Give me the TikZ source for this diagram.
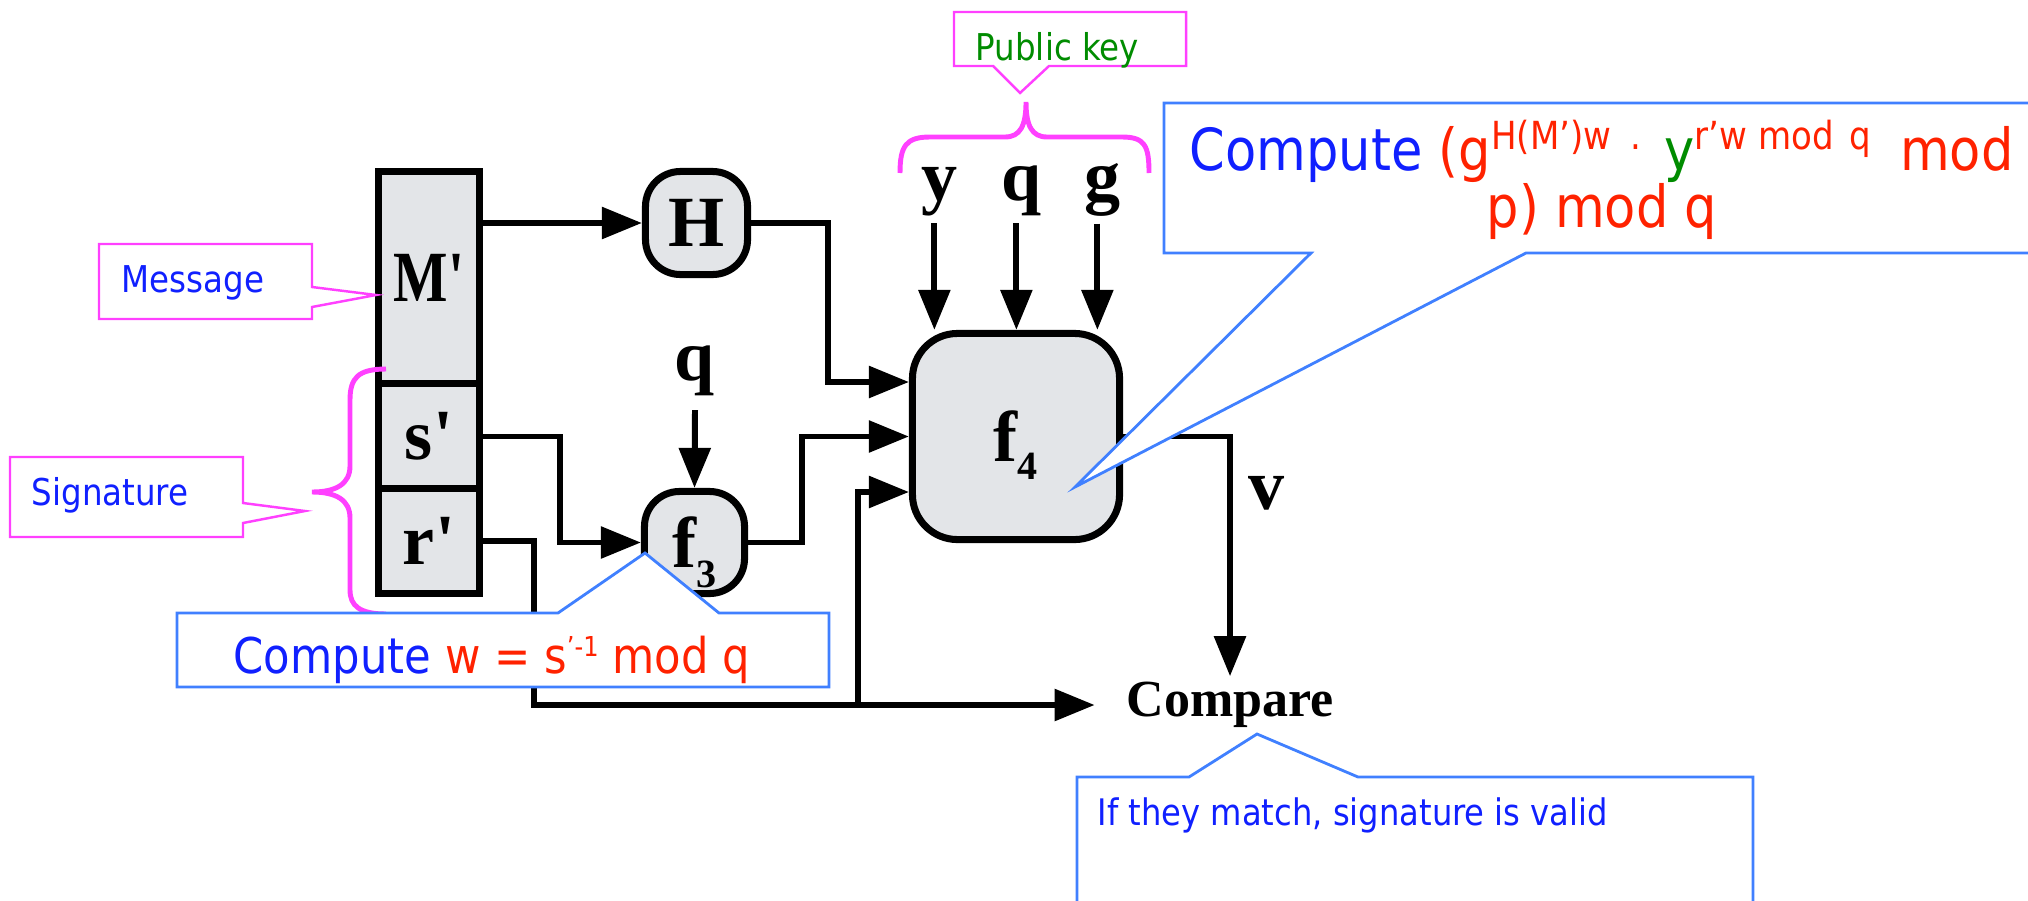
\documentclass[tikz,border=0pt]{standalone}
\usepackage{graphicx}
\usepackage{fontspec}
\usetikzlibrary{arrows.meta,calc}
\newfontfamily\lfont{Liberation Serif}
\newfontfamily\cfont{DejaVu Sans}[FakeStretch=0.88]
\definecolor{boxgray}{RGB}{227,229,232}
\definecolor{pinkm}{RGB}{255,64,255}
\definecolor{callblue}{RGB}{64,128,255}
\definecolor{tblue}{RGB}{16,32,255}
\definecolor{tred}{RGB}{255,34,0}
\definecolor{tgreen}{RGB}{0,140,0}
\begin{document}
\begin{tikzpicture}[x=0.01cm,y=-0.01cm,
  blk/.style={draw=black, line width=2pt, fill=boxgray, inner sep=0pt, font=\lfont\bfseries\fontsize{20.5}{22}\selectfont},
  rblk/.style={blk, rounded corners=0.35cm},
  conn/.style={line width=1.7pt, -{Triangle[length=11.4pt,width=8.8pt]}},
  lab/.style={font=\lfont\bfseries\fontsize{20.5}{22}\selectfont, inner sep=2pt},
  brace/.style={draw=pinkm, line width=1.4pt},
  pcall/.style={draw=pinkm, line width=0.7pt, fill=white},
  bcall/.style={draw=callblue, line width=0.8pt, fill=white},
  ctext/.style={inner sep=0pt, anchor=base west},
  sfont/.style={font=\cfont\fontsize{10.5}{12}\selectfont},
]
\useasboundingbox (0,0) rectangle (2028,900);

% blocks
\node[blk, minimum width=1.01cm, minimum height=2.125cm] (M) at (429,277.75) {\scalebox{0.8}[1]{M'}};
\node[blk, minimum width=1.01cm, minimum height=1.05cm] (s) at (429,436.5) {s'};
\node[blk, minimum width=1.01cm, minimum height=1.045cm] (r) at (429,541.25) {r'};
\node[rblk, minimum width=1.02cm, minimum height=1.03cm] (H) at (696.5,223) {H};
\node[rblk, minimum width=1.00cm, minimum height=1.02cm, text depth=0pt] (f3) at (694.5,542.5) {f\raisebox{-5.5pt}{\fontsize{11.4}{12}\selectfont 3}};
\node[blk, rounded corners=0.45cm, minimum width=2.07cm, minimum height=2.06cm, text depth=0pt] (f4) at (1016,436.5) {f\raisebox{-5pt}{\fontsize{11.4}{12}\selectfont 4}};

% labels
\node[lab, anchor=base, inner sep=4pt] (qf) at (695,380) {q};
\node[lab, anchor=base] (ky) at (940,200) {y};
\node[lab, anchor=base] (kq) at (1022,200) {q};
\node[lab, anchor=base] (kg) at (1103,200) {g};
\node[lab] (v) at (1266,493) {v};
\node[font=\lfont\bfseries\fontsize{14.8}{16}\selectfont, inner xsep=0.31cm, inner ysep=1.5pt] (cmp) at (1230,705) {Compare};

\coordinate (f4a) at (909,382);
\coordinate (f4c) at (909,492);
\coordinate (j) at (858,705);

% connectors
\draw[conn] (M.east |- H.west) -- (H.west);
\draw[conn] (H.east) -- (828,223) |- (f4a);
\draw[conn] (f3.east) -- (802,542.5) |- (f4.west);
\draw[conn] (s.east) -- (560,436.5) |- (f3.west);
\draw[conn] (r.east) -- (534,541.25) -- (534,705) -- (cmp.west);
\draw[conn] (j) |- (f4c);
\draw[conn] (f4.east) -| (cmp.north);
\draw[conn] (qf.south) -- (f3.north);
\draw[conn] ([xshift=-1.6pt]ky.south) -- ([xshift=-1.6pt]ky.south |- f4.north);
\draw[conn] ([xshift=-1.6pt]kq.south) -- ([xshift=-1.6pt]kq.south |- f4.north);
\draw[conn] ([xshift=-1.6pt]kg.south) -- ([xshift=-1.6pt]kg.south |- f4.north);

% braces
\draw[brace] (386,369) .. controls (358,369) and (350,378) .. (350,400) -- (350,466)
  .. controls (350,484) and (336,492) .. (312,492)
  .. controls (336,492) and (350,500) .. (350,518) -- (350,590)
  .. controls (350,606) and (360,614) .. (386,614);
\draw[brace] (900,173) .. controls (900,146) and (906,137) .. (930,137) -- (1005,137)
  .. controls (1020,137) and (1026,126) .. (1026,102)
  .. controls (1026,126) and (1032,137) .. (1047,137) -- (1122,137)
  .. controls (1145,137) and (1149,146) .. (1149,173);

% pink callouts
\draw[pcall] (99,244) -- (312,244) -- (312,287) -- (376,295) -- (312,307) -- (312,319) -- (99,319) -- cycle;
\node[ctext, sfont, text=tblue] (tmsg) at (121,292) {Message};
\draw[pcall] (10,457) -- (243,457) -- (243,503) -- (305,511) -- (243,523) -- (243,537) -- (10,537) -- cycle;
\node[ctext, sfont, text=tblue] (tsig) at (31,505) {Signature};
\draw[pcall] (954,12) -- (1186,12) -- (1186,66) -- (1049,66) -- (1020,93) -- (993,66) -- (954,66) -- cycle;
\node[ctext, sfont, text=tgreen] (tpk) at (975,60) {Public key};

% blue callouts
\draw[bcall] (1164,103) -- (2045,103) -- (2045,253) -- (1526,253) -- (1075,487) -- (1311,253) -- (1164,253) -- cycle;
\node[ctext, font=\cfont\fontsize{16.5}{18}\selectfont] (tc1) at (1189,170) {\textcolor{tblue}{Compute} \textcolor{tred}{(g\raisebox{5.7pt}{\cfont\fontsize{11}{12}\selectfont H(M’)w\hspace{0.5em}.\hspace{0.6em}}}\textcolor{tgreen}{y}\textcolor{tred}{\raisebox{5.7pt}{\cfont\fontsize{11}{12}\selectfont r’w mod\hspace{0.4em}q}\hspace{0.5em}mod}};
\node[inner sep=0pt, anchor=base, font=\cfont\fontsize{16.5}{18}\selectfont, text=tred] (tc2) at (1602,227) {p) mod q};

\draw[bcall] (177,613) -- (558,613) -- (645,553) -- (719,613) -- (829,613) -- (829,687) -- (177,687) -- cycle;
\node[ctext, font=\cfont\fontsize{14}{16}\selectfont] (tw) at (233,673) {\textcolor{tblue}{Compute} \textcolor{tred}{w = s\raisebox{4.6pt}{\cfont\fontsize{7.8}{9}\selectfont ’-1} mod q}};

\draw[bcall] (1077,777) -- (1189,777) -- (1257,734) -- (1358,777) -- (1753,777) -- (1753,920) -- (1077,920) -- cycle;
\node[ctext, font=\cfont\fontsize{10.4}{12}\selectfont, text=tblue] (tif) at (1097,825) {If they match, signature is valid};
\end{tikzpicture}
\end{document}
